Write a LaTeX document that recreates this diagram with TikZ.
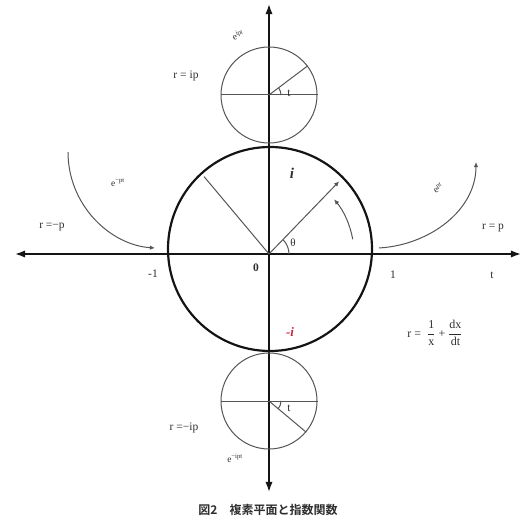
\documentclass[tikz,border=0pt]{standalone}
\usepackage{amsmath}
\usepackage{fontspec}
\setmainfont{Liberation Serif}
\newfontfamily\jpfont{Noto Sans CJK JP Bold}
\usetikzlibrary{arrows.meta,calc}
\definecolor{planedark}{RGB}{20,20,20}
\definecolor{planegray}{RGB}{85,85,85}
\definecolor{planetext}{RGB}{45,45,45}
\definecolor{planered}{RGB}{200,40,60}
\tikzset{
  plane axis/.style={
    -{Latex[length=3.6mm,width=2.6mm]},
    line width=1.6pt,
    draw=planedark,
  },
  unit circle/.style={
    circle,
    draw=planedark,
    line width=2.2pt,
    inner sep=0pt,
  },
  small circle/.style={
    circle,
    draw=planegray,
    line width=1pt,
    inner sep=0pt,
  },
  thin line/.style={
    line width=1pt,
    draw=planegray,
  },
  curve arrow/.style={
    -{Latex[length=1.8mm,width=1.6mm]},
    line width=1pt,
    draw=planegray,
  },
  plane label/.style={
    text=planetext,
    font=\fontsize{11.5}{13}\selectfont,
    inner sep=1pt,
  },
  tiny label/.style={
    text=planetext,
    font=\fontsize{9.5}{10}\selectfont,
    inner sep=1pt,
  },
}

\begin{document}
\begin{tikzpicture}[x=1pt,y=1pt]
  \useasboundingbox (-269,-272) rectangle (255,254);
  % axes
  \coordinate (O) at (0,0);
  \coordinate (xl) at (-254,0);
  \coordinate (xr) at (252,0);
  \coordinate (yb) at (0,-238);
  \coordinate (yt) at (0,250);
  \draw[plane axis] (O) -- (xr);
  \draw[plane axis] (O) -- (xl);
  \draw[plane axis] (O) -- (yt);
  \draw[plane axis] (O) -- (yb);
  % circles
  \node[unit circle, minimum size=204pt] (uc) at (1,5) {};
  \node[small circle, minimum size=96pt] (up) at (0,159) {};
  \node[small circle, minimum size=96pt] (dn) at (0,-147) {};
  \draw[thin line] (up.west) -- (up.east);
  \draw[thin line] (up.center) -- (up.37);
  \draw[thin line] (dn.west) -- (dn.east);
  \draw[thin line] (dn.center) -- (dn.-40);
  \draw[thin line] ($(up.center)+(12,0)$) arc (0:37:12);
  \draw[thin line] ($(dn.center)+(12,0)$) arc (0:-40:12);
  % radii of the unit circle
  \draw[curve arrow] (O) -- (46:101);
  \draw[thin line] (O) -- (130:101);
  \draw[thin line] (20,0) arc (0:46:20);
  \draw[curve arrow] (10:85) arc (10:40:85);
  % exponential paths
  \coordinate (la) at (-201,102);
  \coordinate (lb) at (-114,6);
  \coordinate (ra) at (110,6);
  \coordinate (rb) at (207,92);
  \draw[curve arrow] (la) .. controls (-201,49) and (-159,9) .. (lb);
  \draw[curve arrow] (ra) .. controls (161,9) and (207,44) .. (rb);
  % labels
  \node[plane label, font=\fontsize{11.5}{13}\selectfont\bfseries] (zero) at (-13,-14) {0};
  \node[plane label] (mone) at (-116,-20) {-1};
  \node[plane label] (one) at (124,-21) {1};
  \node[plane label] (tax) at (223,-21) {t};
  \node[plane label] (rp) at (224,26) {r = p};
  \node[plane label] (rmp) at (-217,27) {r =−p};
  \node[plane label, font=\fontsize{15}{16}\selectfont\bfseries\itshape] (iup) at (23,81) {i};
  \node[plane label, text=planered, font=\fontsize{13}{15}\selectfont\bfseries\itshape] (idn) at (21,-78) {-i};
  \node[plane label, font=\fontsize{11}{13}\selectfont] (theta) at (24,11) {θ};
  \node[plane label] (tup) at (20,161) {t};
  \node[plane label] (tdn) at (20,-154) {t};
  \node[plane label] (rip) at (-83,178) {r = ip};
  \node[plane label] (rmip) at (-85,-174) {r =−ip};
  \node[tiny label, rotate=30] (ept) at (169,66) {$\mathrm{e}^{\mathrm{pt}}$};
  \node[tiny label] (empt) at (-151,71) {e\textsuperscript{−pt}};
  \node[tiny label, rotate=20] (eipt) at (-31,219) {$\mathrm{e}^{\mathrm{ipt}}$};
  \node[tiny label] (emipt) at (-34,-204) {e\textsuperscript{−ipt}};
  \node[plane label, font=\fontsize{12}{14}\selectfont] (formula) at (166,-79)
    {r =\ \ $\dfrac{\mathrm{1}}{\mathrm{x}}$\ +\ $\dfrac{\mathrm{dx}}{\mathrm{dt}}$};
  \node[plane label, font=\fontsize{12}{14}\selectfont\jpfont] (caption) at (-1,-256)
    {図2\quad 複素平面と指数関数};
\end{tikzpicture}
\end{document}
